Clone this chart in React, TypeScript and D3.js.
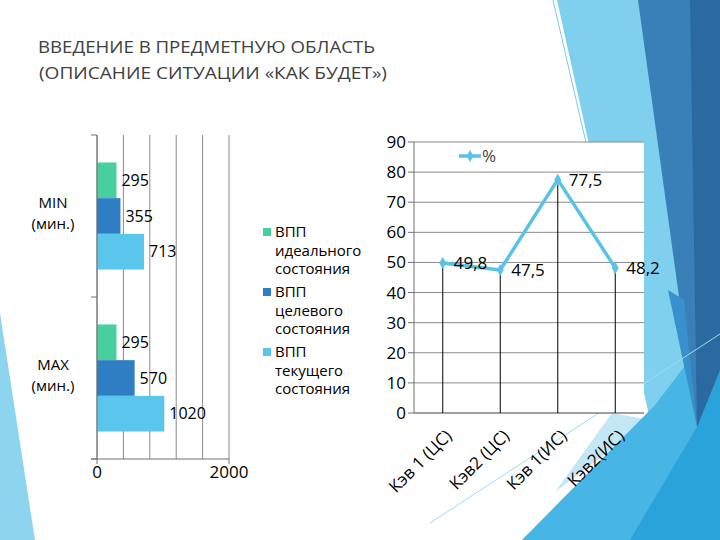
import React from "react";
import * as d3 from "d3";

const W = 720;
const H = 540;

// left chart: ВПП, minutes
const barCategories = ["MIN", "MAX"];
const barSeries = ["ВПП идеального состояния", "ВПП целевого состояния", "ВПП текущего состояния"];
const barLegendLines = [
  ["ВПП", "идеального", "состояния"],
  ["ВПП", "целевого", "состояния"],
  ["ВПП", "текущего", "состояния"],
];
const barValues = [
  [295, 355, 713],
  [295, 570, 1020],
];
const barColors = ["#47cf9e", "#2f7dc2", "#5bc6ec"];
const barGridTicks = [0, 400, 800, 1200, 1600, 2000];
const barTickLabels = [0, 2000];

// right chart: %
const lineCategories = ["Кэв 1 (ЦС)", "Кэв2 (ЦС)", "Кэв 1(ИС)", "Кэв2(ИС)"];
const lineValues = [49.8, 47.5, 77.5, 48.2];
const lineTicks = [0, 10, 20, 30, 40, 50, 60, 70, 80, 90];

const FONT = "'Open Sans', 'DejaVu Sans', sans-serif";

export default function App() {
  // bar chart scales
  const bx = d3.scaleLinear().domain([0, 2000]).range([97, 229]);
  const by = d3.scaleBand().domain(barCategories).range([135, 459]);
  const inner = d3
    .scaleBand()
    .domain(barSeries)
    .range([0, by.bandwidth()])
    .paddingInner(0)
    .paddingOuter(0.77);

  // line chart scales
  const lx = d3.scaleBand().domain(lineCategories).range([414, 644]);
  const ly = d3.scaleLinear().domain([0, 90]).range([413, 142]);
  const cx = (c: string) => (lx(c) as number) + lx.bandwidth() / 2;
  const linePath = d3
    .line<number>()
    .x((d, i) => cx(lineCategories[i]))
    .y((d) => ly(d))(lineValues) as string;
  const diamond = d3.symbol().type(d3.symbolDiamond).size(42)() as string;

  return (
    <svg
      width={W}
      height={H}
      style={{ position: "absolute", left: 0, top: 0, background: "#fff" }}
      fontFamily={FONT}
    >
      {/* slide decoration */}
      <polygon points="0,313 35,540 0,540" fill="#8dd5ef" />
      <polygon points="557,0 720,0 720,540 522,540 650,420" fill="#7fcfee" />
      <polygon points="612,413 555,492 650,420" fill="#c4e7f5" />
      <polygon points="720,320 720,540 522,540 655,405" fill="#48b6e4" />
      <polygon points="697,427 720,370 720,540 630,540" fill="#2aa2da" />
      <polygon points="638,0 720,0 720,370 697,427" fill="#3a80b8" />
      <polygon points="690,0 720,0 720,370 697,427" fill="#2b6aa1" />
      <polygon points="668,290 697,427 684,300" fill="#3890cc" />
      <line x1={553} y1={0} x2={590} y2={160} stroke="#7ccbe9" strokeWidth={1} />
      <line x1={430} y1={523} x2={720} y2={334} stroke="#9fdcef" strokeWidth={1} />

      {/* title */}
      <g fill="#404040" fontSize={17}>
        <text x={38} y={53} textLength={337} lengthAdjust="spacingAndGlyphs">
          ВВЕДЕНИЕ В ПРЕДМЕТНУЮ ОБЛАСТЬ
        </text>
        <text x={39} y={79} textLength={348} lengthAdjust="spacingAndGlyphs">
          (ОПИСАНИЕ СИТУАЦИИ «КАК БУДЕТ»)
        </text>
      </g>

      {/* bar chart */}
      <g>
        {barGridTicks.map((t) => (
          <line key={t} x1={bx(t)} x2={bx(t)} y1={135} y2={459} stroke="#8a8a8a" />
        ))}
        {barCategories.map((c, ci) =>
          barSeries.map((s, si) => (
            <g key={c + s}>
              <rect
                x={bx(0)}
                y={(by(c) as number) + (inner(s) as number)}
                width={bx(barValues[ci][si]) - bx(0)}
                height={inner.bandwidth()}
                fill={barColors[si]}
              />
              <text
                x={bx(barValues[ci][si]) + 5}
                y={(by(c) as number) + (inner(s) as number) + inner.bandwidth() / 2}
                dy="0.35em"
                fontSize={16}
                fill="#000"
              >
                {barValues[ci][si]}
              </text>
            </g>
          ))
        )}
        <line x1={97} x2={97} y1={135} y2={459} stroke="#707070" />
        <line x1={91} x2={229} y1={459} y2={459} stroke="#707070" />
        {[135, 297, 459].map((y) => (
          <line key={y} x1={91} x2={97} y1={y} y2={y} stroke="#707070" />
        ))}
        {barTickLabels.map((t) => (
          <g key={t}>
            <line x1={bx(t)} x2={bx(t)} y1={459} y2={464} stroke="#707070" />
            <text x={bx(t)} y={478} textAnchor="middle" fontSize={17} fill="#000">
              {t}
            </text>
          </g>
        ))}
        {barCategories.map((c) => {
          const mid = (by(c) as number) + by.bandwidth() / 2;
          return (
            <g key={c} fontSize={15} fill="#000" textAnchor="middle">
              <text x={53} y={mid - 8}>
                {c}
              </text>
              <text x={53} y={mid + 13}>
                (мин.)
              </text>
            </g>
          );
        })}
        {barLegendLines.map((lines, i) => (
          <g key={i} transform={`translate(263, ${232 + i * 60})`}>
            <rect x={0} y={-4} width={8} height={8} fill={barColors[i]} />
            {lines.map((l, j) => (
              <text key={j} x={12} y={j * 18.5} dy="0.35em" fontSize={15} fill="#000">
                {l}
              </text>
            ))}
          </g>
        ))}
      </g>

      {/* line chart */}
      <g>
        <rect x={414} y={142} width={230} height={271} fill="#fff" />
        {lineTicks.map((t) => (
          <g key={t}>
            {t > 0 && <line x1={414} x2={644} y1={ly(t)} y2={ly(t)} stroke="#8a8a8a" />}
            <line x1={408} x2={414} y1={ly(t)} y2={ly(t)} stroke="#707070" />
            <text x={406} y={ly(t)} dy="0.35em" textAnchor="end" fontSize={17} fill="#000">
              {t}
            </text>
          </g>
        ))}
        <line x1={414} x2={414} y1={142} y2={413} stroke="#707070" />
        <line x1={414} x2={644} y1={413} y2={413} stroke="#404040" />
        {lineCategories.map((c, i) => (
          <line key={c} x1={cx(c)} x2={cx(c)} y1={ly(lineValues[i])} y2={413} stroke="#000" />
        ))}
        <path d={linePath} fill="none" stroke="#5ac2e6" strokeWidth={3.5} strokeLinejoin="round" />
        {lineCategories.map((c, i) => (
          <g key={c}>
            <path d={diamond} transform={`translate(${cx(c)},${ly(lineValues[i])})`} fill="#5ac2e6" />
            <text x={cx(c) + 11} y={ly(lineValues[i])} dy="0.35em" fontSize={17} fill="#000">
              {String(lineValues[i]).replace(".", ",")}
            </text>
            <text
              transform={`translate(${cx(c) + 10},${437}) rotate(-45)`}
              textAnchor="end"
              fontSize={17}
              fill="#000"
            >
              {c}
            </text>
          </g>
        ))}
        <line x1={459} x2={481} y1={156} y2={156} stroke="#5ac2e6" strokeWidth={3.5} />
        <path d={diamond} transform="translate(470,156)" fill="#5ac2e6" />
        <text x={482} y={156} dy="0.35em" fontSize={17} fill="#404040">
          %
        </text>
      </g>
    </svg>
  );
}
